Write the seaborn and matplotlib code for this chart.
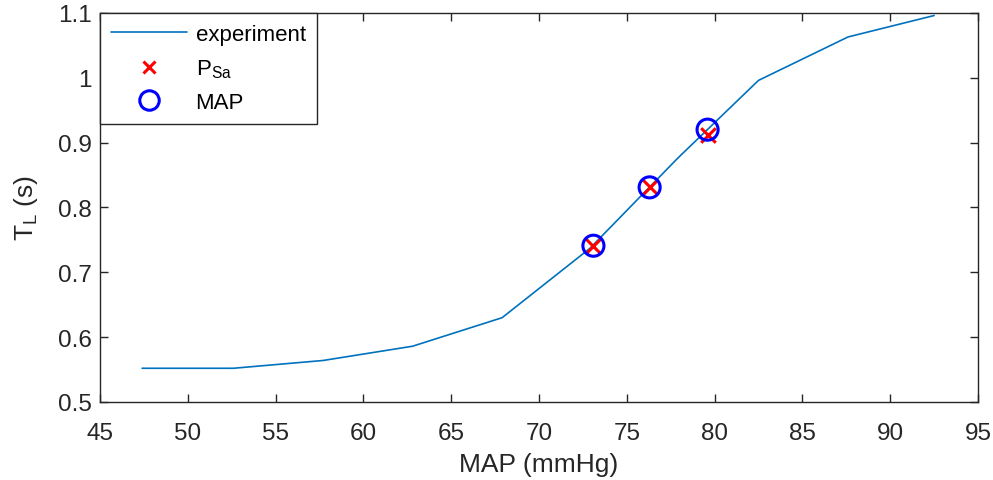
import matplotlib
matplotlib.use("Agg")
import matplotlib.pyplot as plt
import seaborn as sns
import pandas as pd
from matplotlib.lines import Line2D

# data
exp_map = [47.4, 52.6, 57.7, 62.8, 67.9, 72.9, 77.9, 82.5, 87.6, 92.5]
exp_tl = [0.552, 0.552, 0.564, 0.586, 0.630, 0.737, 0.876, 0.996, 1.063, 1.096]
psa_map = [73.1, 76.3, 79.6]
psa_tl = [0.741, 0.831, 0.912]
map_map = [73.1, 76.3, 79.6]
map_tl = [0.741, 0.831, 0.920]
xticks = [45, 50, 55, 60, 65, 70, 75, 80, 85, 90, 95]
yticks = [0.5, 0.6, 0.7, 0.8, 0.9, 1.0, 1.1]
ytick_labels = ["0.5", "0.6", "0.7", "0.8", "0.9", "1", "1.1"]

sns.set_style("ticks")
plt.rcParams["font.family"] = ["Liberation Sans", "DejaVu Sans"]
plt.rcParams["mathtext.default"] = "regular"
plt.rcParams["mathtext.fontset"] = "custom"
plt.rcParams["mathtext.rm"] = "Liberation Sans"

fig = plt.figure(figsize=(9.93, 4.81), dpi=100)
ax = fig.add_axes([0.1007, 0.1622, 0.8842, 0.8088])

dark = "#262626"
line_df = pd.DataFrame({"x": exp_map, "y": exp_tl})
sns.lineplot(data=line_df, x="x", y="y", ax=ax, color="#0072BD", linewidth=1.2,
             legend=False)
sns.scatterplot(x=psa_map, y=psa_tl, ax=ax, marker="x", color="red", s=110,
                linewidth=2.2, legend=False, zorder=4)
sns.scatterplot(x=map_map, y=map_tl, ax=ax, marker="o", facecolor="none",
                edgecolor="blue", s=230, linewidth=2.2, legend=False, zorder=5)

ax.set_xlim(45, 95)
ax.set_ylim(0.5, 1.1)
ax.set_xticks(xticks)
ax.set_yticks(yticks)
ax.set_yticklabels(ytick_labels)
ax.tick_params(direction="in", top=True, right=True, length=6, width=1,
               colors=dark, labelsize=17.5)
ax.tick_params(axis="x", pad=14.5)
ax.tick_params(axis="y", pad=6)
for sp in ax.spines.values():
    sp.set_color(dark)
    sp.set_linewidth(1)
    sp.set_visible(True)
ax.set_xlabel("MAP (mmHg)", fontsize=19, color=dark, labelpad=6)
ax.set_ylabel("T$_L$ (s)", fontsize=19, color=dark, labelpad=13)

handles = [
    Line2D([], [], color="#0072BD", linewidth=1.2),
    Line2D([], [], color="red", marker="x", linestyle="none", markersize=8,
           markeredgewidth=2.2),
    Line2D([], [], color="blue", marker="o", markerfacecolor="none",
           linestyle="none", markersize=14, markeredgewidth=2.2),
]
leg = ax.legend(handles, ["experiment", "P$_{Sa}$", "MAP"], loc="upper left",
                borderaxespad=0, fancybox=False, framealpha=1, fontsize=16,
                edgecolor=dark, handlelength=3.4, labelspacing=0.55,
                borderpad=0.5, handletextpad=0.4)
leg.get_frame().set_linewidth(1)
for t in leg.get_texts():
    t.set_color("black")

fig.savefig("out.png", dpi=100)
